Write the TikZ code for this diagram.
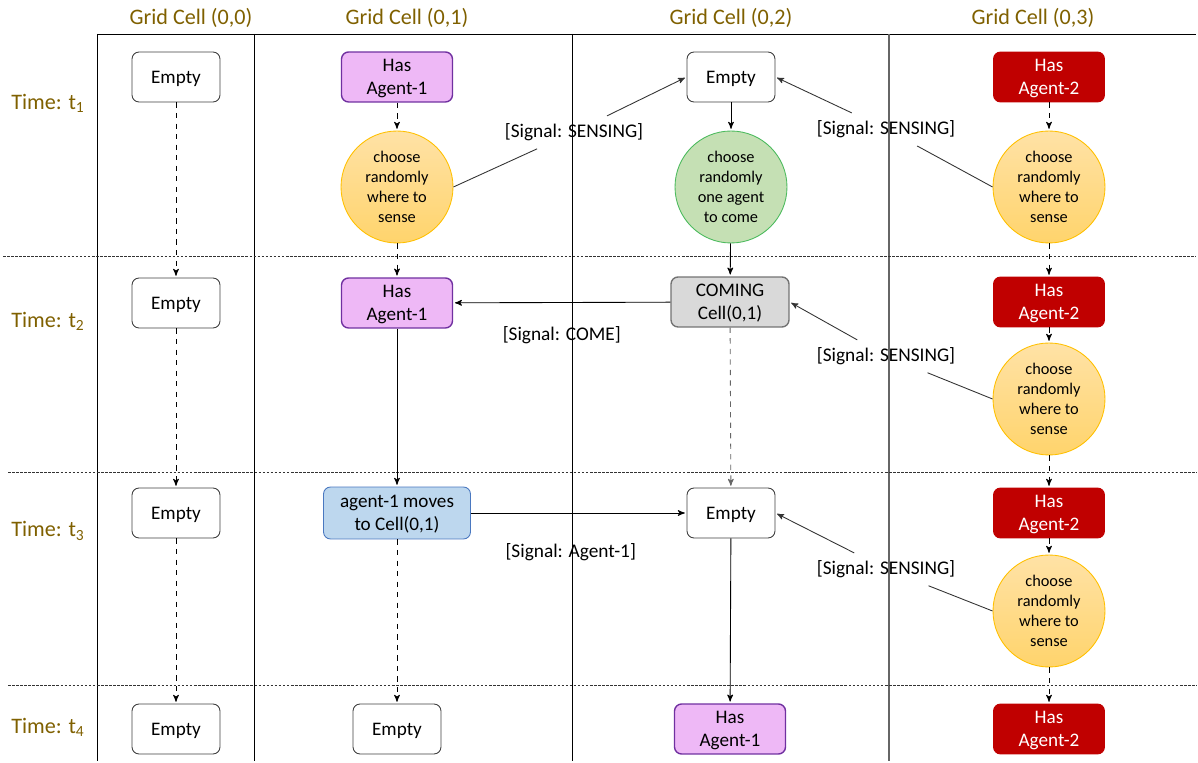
\documentclass[tikz,border=0pt]{standalone}
\usepackage{fontspec}
\setmainfont{Carlito}
\usepackage{tikz}
\usetikzlibrary{shapes, calc, arrows, positioning}

\definecolor{hdrcol}{HTML}{7F6000}
\definecolor{purfill}{HTML}{EEB8F6}
\definecolor{purline}{HTML}{7030A0}
\definecolor{redfill}{HTML}{C00000}
\definecolor{orgline}{HTML}{FFC000}
\definecolor{orgtop}{HTML}{FFE2A6}
\definecolor{orgbot}{HTML}{FFD46C}
\definecolor{grnfill}{HTML}{C5E0B4}
\definecolor{grnline}{HTML}{4CBB5E}
\definecolor{gryfill}{HTML}{D9D9D9}
\definecolor{blufill}{HTML}{BDD7EE}
\definecolor{bluline}{HTML}{4A78C0}

\begin{document}
\begin{tikzpicture}[x=0.02cm,y=-0.02cm,>=stealth',shorten >=1pt,line width=0.5pt,
	hdr/.style={text=hdrcol, font=\fontsize{12.6}{15}\selectfont},
	sig/.style={font=\fontsize{11}{13}\selectfont, inner sep=4pt},
	box/.style={rounded corners=4pt, minimum height=1cm, align=center, inner sep=2pt,
		text depth=0pt, font=\fontsize{10.9}{13.2}\selectfont},
	emptybox/.style={box, draw=black!75, fill=white, minimum width=1.76cm},
	agentone/.style={box, draw=purline, line width=0.8pt, fill=purfill, minimum width=2.22cm},
	agenttwo/.style={box, draw=redfill, fill=redfill, text=white, minimum width=2.22cm},
	coming/.style={box, draw=black!55, line width=0.8pt, fill=gryfill, minimum width=2.36cm},
	moving/.style={box, draw=bluline, fill=blufill, minimum width=2.94cm, minimum height=1.04cm},
	sense/.style={circle, draw=orgline, top color=orgtop, bottom color=orgbot, minimum size=2.24cm,
		inner sep=0pt, align=center, text depth=0pt, font=\fontsize{9.3}{11.3}\selectfont},
	pick/.style={sense, draw=grnline, fill=grnfill, top color=grnfill, bottom color=grnfill},
	griddash/.style={black!80, line width=0.4pt, dash pattern=on 1.5pt off 0.8pt},
	]
	\useasboundingbox (0,0) rectangle (1198,763);

	% grid
	\draw (97,34) -- (1198,34);
	\draw (97,34) -- (97,763);
	\draw (254,34) -- (254,763);
	\draw (572,34) -- (572,763);
	\draw[line width=0.7pt, black!60] (889,34) -- (889,763);
	\draw[griddash] (3,256) -- (1198,256);
	\draw[griddash] (8,472) -- (1198,472);
	\draw[griddash] (8,685) -- (1198,685);

	% headers
	\node[hdr] (h0) at (191,18) {Grid Cell (0,0)};
	\node[hdr] (h1) at (407,18) {Grid Cell (0,1)};
	\node[hdr] (h2) at (731,18) {Grid Cell (0,2)};
	\node[hdr] (h3) at (1033,18) {Grid Cell (0,3)};
	\node[hdr] (t1) at (48,103) {Time: t\textsubscript{1}};
	\node[hdr] (t2) at (48,321) {Time: t\textsubscript{2}};
	\node[hdr] (t3) at (48,531) {Time: t\textsubscript{3}};
	\node[hdr] (t4) at (48,727) {Time: t\textsubscript{4}};

	% cell (0,0)
	\node[emptybox] (a1) at (176,77) {Empty};
	\node[emptybox] (a2) at (176,303) {Empty};
	\node[emptybox] (a3) at (176,513) {Empty};
	\node[emptybox] (a4) at (176,729) {Empty};

	% cell (0,1)
	\node[agentone] (b1) at (397,77) {Has\\Agent-1};
	\node[sense] (bc1) at (397,187) {choose\\randomly\\where to\\sense};
	\node[agentone] (b2) at (397,303) {Has\\Agent-1};
	\node[moving] (b3) at (397,513) {agent-1 moves\\to Cell(0,1)};
	\node[emptybox] (b4) at (397,729) {Empty};

	% cell (0,2)
	\node[emptybox] (c1) at (731,77) {Empty};
	\node[pick] (cc1) at (731,187) {choose\\randomly\\one agent\\to come};
	\node[coming] (c2) at (730,302) {COMING\\Cell(0,1)};
	\node[emptybox] (c3) at (731,513) {Empty};
	\node[agentone] (c4) at (730,729) {Has\\Agent-1};

	% cell (0,3)
	\node[agenttwo] (d1) at (1049,77) {Has\\Agent-2};
	\node[sense] (dc1) at (1049,187) {choose\\randomly\\where to\\sense};
	\node[agenttwo] (d2) at (1049,302) {Has\\Agent-2};
	\node[sense] (dc2) at (1049,399) {choose\\randomly\\where to\\sense};
	\node[agenttwo] (d3) at (1049,513) {Has\\Agent-2};
	\node[sense] (dc3) at (1049,611) {choose\\randomly\\where to\\sense};
	\node[agenttwo] (d4) at (1049,729) {Has\\Agent-2};

	% time steps
	\draw[->,dashed] (a1) -- (a2);
	\draw[->,dashed] (a2) -- (a3);
	\draw[->,dashed] (a3) -- (a4);
	\draw[->,dashed] (b1) -- (bc1);
	\draw[->,dashed] (bc1) -- (b2);
	\draw[->] (b2) -- (b3);
	\draw[->,dashed] (b3) -- (b4);
	\draw[->] (c1) -- (cc1);
	\draw[->] (cc1) -- (c2);
	\draw[->,dashed,black!60] (c2) -- (c3);
	\draw[->] (c3) -- (c4);
	\draw[->,dashed] (d1) -- (dc1);
	\draw[->,dashed] (dc1) -- (d2);
	\draw[->,dashed] (d2) -- (dc2);
	\draw[->,dashed] (dc2) -- (d3);
	\draw[->,dashed] (d3) -- (dc3);
	\draw[->,dashed] (dc3) -- (d4);

	% signals
	\node[sig] (s1) at (574,132) {[Signal: SENSING]};
	\draw[black!80] (bc1.east) -- (s1);
	\draw[->,black!80] (s1) -- (c1.west);
	\node[sig] (s2) at (886,129) {[Signal: SENSING]};
	\draw[black!80] (dc1.west) -- (s2);
	\draw[->,black!80] (s2) -- (c1.east);
	\node[sig] (s3) at (886,356) {[Signal: SENSING]};
	\draw[black!80] (dc2.west) -- (s3);
	\draw[->,black!80] (s3) -- (c2.east);
	\node[sig] (s4) at (886,569) {[Signal: SENSING]};
	\draw[black!80] (dc3.west) -- (s4);
	\draw[->,black!80] (s4) -- (c3.east);
	\draw[->] (c2) -- node[sig, below=3.4mm] (k1) {[Signal: COME]} (b2);
	\draw[->] (b3) -- node[sig, below=4.6mm, xshift=-0.16cm] (k2) {[Signal: Agent-1]} (c3);
\end{tikzpicture}
\end{document}
